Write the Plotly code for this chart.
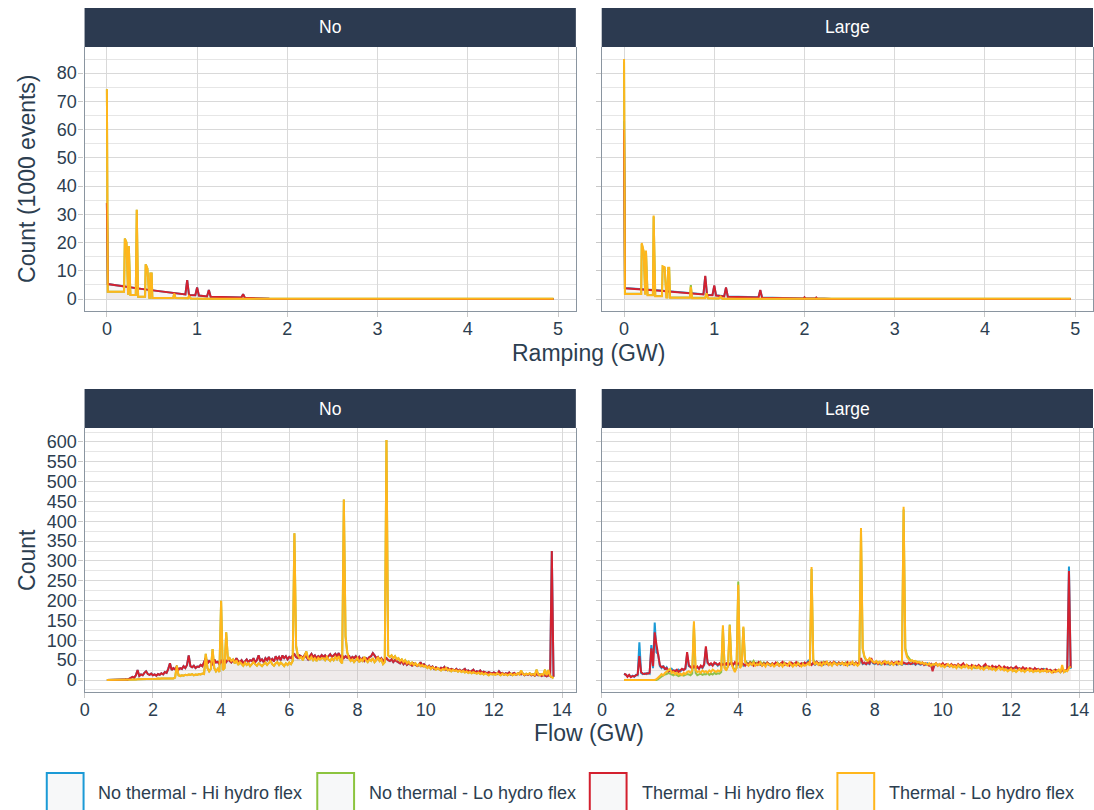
import numpy as np
import plotly.graph_objects as go

# ---------------- data ----------------
series_names = ["No thermal - Hi hydro flex", "No thermal - Lo hydro flex",
                "Thermal - Hi hydro flex", "Thermal - Lo hydro flex"]
series_colors = ["#1B9AD6", "#8CC43F", "#D3202F", "#FFB61C"]
facet_labels = ["No", "Large"]

# Ramping (GW) vs count (1000 events)
ramp_no_hi_x = [0, 0.01, 0.4, 0.87, 0.89, 0.91, 0.98, 1.00, 1.02, 1.11, 1.13, 1.15, 1.49, 1.51, 1.53, 1.8, 4.95]
ramp_no_hi_y = [34, 5.3, 3.5, 1.6, 6.7, 1.4, 1.3, 4.1, 1.2, 0.9, 3.2, 0.8, 0.5, 1.7, 0.4, 0.05, 0]
ramp_no_lo_x = [0, 0.01, 0.19, 0.199, 0.217, 0.235, 0.243, 0.261, 0.32, 0.331, 0.346, 0.423, 0.43, 0.449,
                0.47, 0.478, 0.482, 0.496, 0.504, 0.735, 0.746, 0.76, 0.90, 0.91, 0.93, 1.1, 4.95]
ramp_no_lo_y = [74.3, 2.6, 2.6, 21.4, 20.0, 1.5, 18.8, 1.4, 1.4, 31.6, 0.8, 0.8, 12.3, 10.8,
                0.4, 0.4, 9.0, 9.0, 0.35, 0.35, 2.0, 0.35, 0.3, 1.0, 0.2, 0.1, 0.1]
ramp_lg_hi_x = [0, 0.01, 0.4, 0.88, 0.90, 0.92, 0.98, 1.00, 1.02, 1.11, 1.13, 1.15, 1.49, 1.51, 1.53,
                1.99, 2.0, 2.01, 2.12, 2.13, 2.14, 2.3, 4.95]
ramp_lg_hi_y = [60, 3.8, 2.9, 1.6, 8.2, 1.4, 1.3, 4.8, 1.2, 0.9, 4.1, 0.8, 0.5, 3.2, 0.4,
                0.2, 0.6, 0.2, 0.15, 0.5, 0.15, 0.02, 0]
ramp_lg_nhi_y = [63, 3.9, 3.0, 1.7, 8.0, 1.5, 1.4, 4.6, 1.3, 1.0, 4.0, 0.9, 0.6, 3.1, 0.5,
                 0.2, 0.5, 0.2, 0.15, 0.4, 0.15, 0.02, 0]
ramp_lg_lo_x = [0, 0.01, 0.19, 0.196, 0.217, 0.235, 0.243, 0.261, 0.32, 0.328, 0.346, 0.42, 0.428, 0.45,
                0.47, 0.48, 0.49, 0.50, 0.51, 0.73, 0.74, 0.755, 0.90, 0.915, 0.93, 1.05, 1.07, 1.09, 4.95]
ramp_lg_lo_y = [85, 1.8, 1.8, 19.8, 17.0, 1.5, 17.2, 1.3, 1.3, 29.6, 1.0, 1.0, 11.6, 11.3,
                0.5, 0.5, 11.1, 11.1, 0.4, 0.4, 4.3, 0.3, 0.3, 2.0, 0.3, 0.2, 0.8, 0.1, 0.1]
ramp_lg_nlo_y = [84, 1.9, 1.9, 19.5, 16.8, 1.6, 17.0, 1.4, 1.4, 29.2, 1.1, 1.1, 11.4, 11.0,
                 0.6, 0.6, 10.9, 10.9, 0.5, 0.5, 4.9, 0.4, 0.4, 2.1, 0.3, 0.2, 0.7, 0.1, 0.1]

# Flow (GW) vs count, bins of 0.05 GW from 0.65 to 13.75
flow_x = np.round(np.arange(0.65, 13.7501, 0.05), 2)

flow_no_hi = sum([
    [0, 0, 0, 0, 0, 0, 1],
    [1, 0, 1, 1, 2, 1, 3, 5, 8, 6, 12, 25, 10, 14, 12, 18, 22, 15, 13, 16],
    [12, 14, 11, 15, 13, 17, 14, 20, 18, 28, 42, 25, 30, 27, 33, 26, 30, 28, 35, 30],
    [38, 62, 35, 32, 36, 30, 34, 33, 38, 35, 45, 55, 42, 48, 45, 40, 52, 44, 46, 40],
    [48, 42, 50, 45, 52, 48, 44, 50, 46, 55, 48, 45, 50, 42, 47, 52, 45, 50, 48, 55],
    [45, 50, 62, 48, 52, 45, 55, 50, 58, 48, 53, 47, 60, 52, 58, 50, 62, 55, 60, 52],
    [58, 55, 62, 65, 58, 55, 62, 60, 55, 63, 58, 52, 60, 66, 58, 62, 55, 60, 57, 63],
    [58, 62, 55, 60, 65, 58, 62, 66, 60, 68, 58, 62, 55, 60, 56, 62, 52, 58, 55, 60],
    [52, 58, 50, 55, 48, 55, 52, 58, 60, 68, 62, 55, 58, 50, 55, 48, 52, 55, 50, 48],
    [52, 45, 50, 48, 45, 42, 48, 40, 45, 38, 42, 40, 36, 42, 38, 35, 38, 45, 36, 40],
    [35, 32, 36, 30, 34, 28, 32, 30, 27, 31, 28, 33, 26, 30, 25, 28, 26, 24, 28, 23],
    [26, 22, 25, 28, 22, 24, 20, 23, 26, 19, 22, 20, 24, 18, 21, 19, 17, 20, 18, 16],
    [19, 17, 15, 22, 16, 18, 14, 17, 15, 19, 14, 16, 18, 13, 15, 17, 14, 16, 12, 15],
    [13, 16, 12, 14, 11, 15, 12, 14, 10, 13, 11, 9, 12, 10, 325, 8],
], [])

flow_no_lo = sum([
    [0, 0, 0, 0, 0, 0, 0],
    [0, 0, 0, 0, 1, 1, 1, 1, 1, 1, 1, 2, 2, 2, 2, 2, 2, 2, 3, 2],
    [3, 3, 3, 4, 3, 4, 4, 4, 5, 4, 5, 5, 4, 6, 36, 12, 10, 12, 11, 13],
    [12, 14, 13, 15, 12, 14, 13, 15, 14, 16, 15, 66, 30, 22, 28, 78, 30, 22, 28, 20],
    [200, 25, 30, 120, 50, 55, 48, 52, 42, 50, 38, 45, 40, 36, 44, 38, 42, 35, 40, 45],
    [40, 36, 42, 38, 35, 40, 44, 38, 42, 48, 40, 36, 42, 45, 38, 44, 40, 35, 42, 38],
    [44, 40, 48, 370, 85, 62, 55, 58, 50, 62, 72, 55, 52, 58, 50, 55, 48, 56, 52, 55],
    [55, 50, 58, 52, 48, 55, 50, 58, 52, 60, 48, 42, 455, 110, 70, 55, 48, 52, 45, 50],
    [55, 45, 52, 48, 58, 50, 45, 52, 48, 55, 45, 50, 58, 48, 52, 40, 45, 605, 62, 58],
    [62, 55, 60, 52, 55, 48, 52, 45, 50, 42, 46, 40, 44, 38, 42, 36, 40, 35, 38, 34],
    [36, 30, 34, 28, 32, 30, 26, 30, 28, 24, 28, 26, 30, 24, 27, 22, 26, 23, 25, 21],
    [24, 20, 23, 19, 22, 18, 21, 17, 20, 18, 16, 19, 15, 18, 14, 17, 15, 12, 16, 14],
    [15, 13, 17, 14, 12, 16, 13, 15, 12, 14, 16, 12, 15, 13, 17, 14, 24, 15, 13, 16],
    [14, 17, 13, 15, 12, 26, 14, 12, 15, 13, 26, 12, 25, 10, 8, 5],
], [])

# in the "No" panel the no-thermal series lie under the thermal ones
flow_no_nhi = flow_no_hi
flow_no_nlo = flow_no_lo

flow_lg_hi = sum([
    [15, 14, 8, 13, 7, 10, 9],
    [12, 14, 60, 20, 16, 15, 17, 16, 18, 80, 35, 120, 90, 60, 38, 32, 34, 28, 30, 22],
    [25, 20, 24, 22, 26, 20, 24, 28, 25, 30, 70, 38, 32, 30, 35, 30, 34, 28, 36, 32],
    [40, 85, 45, 38, 42, 36, 44, 40, 38, 42, 36, 40, 38, 42, 36, 40, 44, 38, 45, 40],
    [42, 38, 44, 40, 36, 42, 38, 44, 40, 36, 42, 38, 45, 40, 36, 42, 38, 44, 40, 36],
    [42, 38, 44, 40, 36, 42, 46, 38, 42, 40, 36, 44, 40, 38, 45, 40, 36, 42, 38, 44],
    [40, 45, 42, 38, 44, 40, 46, 42, 38, 44, 40, 45, 42, 38, 44, 40, 46, 42, 38, 44],
    [40, 44, 40, 38, 45, 40, 44, 42, 38, 44, 40, 46, 55, 42, 44, 40, 46, 42, 55, 44],
    [42, 46, 40, 44, 42, 46, 40, 44, 42, 40, 46, 42, 44, 40, 46, 42, 40, 44, 42, 40],
    [44, 40, 42, 46, 40, 44, 42, 40, 44, 38, 42, 40, 36, 40, 22, 38, 42, 36, 40, 38],
    [42, 36, 40, 38, 34, 40, 36, 38, 34, 40, 36, 38, 42, 34, 38, 36, 32, 38, 34, 36],
    [32, 38, 34, 30, 36, 40, 32, 34, 30, 36, 32, 34, 30, 36, 32, 28, 34, 30, 32, 28],
    [32, 28, 30, 34, 28, 30, 26, 32, 28, 30, 26, 30, 28, 24, 30, 26, 28, 24, 28, 26],
    [24, 28, 22, 26, 24, 20, 26, 22, 24, 20, 26, 22, 24, 28, 275, 30],
], [])

flow_lg_nhi = sum([
    [16, 12, 10, 12, 8, 11, 8],
    [13, 12, 95, 18, 15, 17, 15, 18, 16, 88, 30, 145, 70, 65, 35, 30, 36, 26, 32, 24],
    [22, 28, 22, 24, 20, 26, 22, 26, 27, 28, 65, 35, 34, 28, 33, 32, 30, 30, 34, 30],
    [38, 80, 42, 40, 38, 40, 40, 42, 36, 40, 38, 42, 40, 38, 40, 42, 40, 40, 42, 38],
    [38, 40, 42, 36, 40, 40, 42, 40, 38, 40, 38, 42, 40, 38, 40, 38, 42, 40, 38, 40],
    [40, 40, 38, 42, 40, 38, 42, 40, 40, 38, 40, 42, 36, 42, 40, 38, 40, 40, 42, 40],
    [42, 48, 40, 40, 42, 38, 42, 40, 42, 40, 38, 42, 40, 42, 40, 38, 42, 44, 40, 42],
    [38, 42, 42, 40, 42, 38, 42, 40, 42, 40, 38, 42, 50, 40, 42, 40, 42, 40, 50, 42],
    [40, 42, 44, 40, 38, 42, 42, 40, 40, 38, 42, 40, 42, 38, 42, 40, 38, 42, 40, 42],
    [40, 42, 40, 42, 38, 42, 40, 38, 42, 40, 38, 42, 38, 40, 26, 36, 40, 38, 38, 36],
    [38, 38, 36, 36, 36, 38, 34, 36, 36, 36, 34, 36, 38, 36, 34, 34, 34, 36, 32, 34],
    [34, 34, 32, 32, 34, 36, 34, 32, 32, 34, 30, 32, 32, 34, 30, 30, 32, 30, 30, 30],
    [30, 30, 28, 32, 30, 28, 28, 30, 26, 28, 28, 28, 26, 26, 28, 28, 26, 26, 26, 28],
    [26, 26, 24, 24, 22, 24, 24, 24, 22, 22, 24, 24, 22, 26, 286, 28],
], [])

flow_lg_lo = sum([
    [0, 0, 0, 0, 0, 0, 0],
    [0, 0, 0, 0, 0, 0, 0, 0, 0, 0, 0, 0, 2, 5, 10, 15, 12, 18, 22, 25],
    [28, 18, 20, 15, 18, 14, 16, 12, 18, 15, 20, 22, 18, 24, 148, 25, 20, 22, 18, 24],
    [20, 22, 18, 24, 20, 26, 22, 20, 24, 22, 26, 138, 30, 24, 36, 138, 40, 30, 20, 32],
    [240, 30, 36, 135, 45, 40, 36, 42, 38, 44, 36, 40, 38, 44, 36, 40, 34, 42, 38, 36],
    [40, 34, 38, 42, 36, 40, 34, 42, 38, 36, 44, 38, 34, 40, 36, 42, 38, 34, 40, 36],
    [38, 42, 36, 285, 48, 40, 44, 38, 42, 36, 44, 40, 46, 38, 42, 36, 44, 40, 38, 42],
    [40, 44, 38, 42, 36, 44, 40, 46, 38, 42, 36, 40, 383, 80, 60, 52, 48, 55, 50, 46],
    [44, 48, 42, 46, 40, 44, 48, 42, 46, 40, 44, 38, 42, 46, 40, 44, 38, 437, 75, 58],
    [52, 48, 50, 46, 48, 44, 46, 42, 44, 40, 42, 38, 42, 36, 40, 38, 42, 36, 40, 34],
    [38, 32, 36, 40, 34, 38, 32, 36, 30, 38, 34, 30, 36, 32, 38, 30, 34, 28, 36, 32],
    [30, 34, 28, 32, 26, 30, 34, 28, 32, 26, 30, 24, 28, 32, 26, 30, 24, 28, 22, 26],
    [28, 22, 26, 20, 24, 28, 22, 26, 20, 24, 28, 22, 26, 20, 24, 22, 26, 20, 24, 22],
    [26, 20, 24, 22, 18, 24, 20, 22, 26, 18, 38, 20, 24, 22, 30, 34],
], [])

flow_lg_nlo = sum([
    [0, 0, 0, 0, 0, 0, 0],
    [0, 0, 0, 0, 0, 0, 0, 0, 0, 0, 0, 0, 0, 2, 6, 10, 12, 14, 15, 18],
    [16, 14, 12, 15, 13, 10, 12, 14, 11, 13, 15, 14, 12, 16, 140, 18, 12, 14, 16, 13],
    [15, 14, 18, 13, 16, 14, 18, 15, 17, 16, 20, 130, 32, 26, 34, 140, 42, 32, 24, 30],
    [248, 34, 38, 132, 50, 44, 40, 46, 42, 48, 40, 44, 42, 46, 40, 44, 38, 44, 40, 38],
    [42, 38, 40, 44, 38, 42, 38, 44, 40, 38, 42, 40, 36, 42, 38, 44, 40, 36, 42, 38],
    [40, 44, 38, 280, 52, 42, 46, 40, 44, 38, 46, 42, 44, 40, 44, 38, 42, 42, 40, 44],
    [42, 42, 40, 44, 38, 42, 42, 44, 40, 44, 38, 42, 375, 78, 58, 50, 50, 52, 48, 44],
    [42, 46, 44, 44, 42, 42, 46, 44, 44, 42, 42, 40, 44, 44, 42, 42, 40, 430, 80, 62],
    [55, 50, 48, 48, 46, 46, 44, 44, 42, 42, 40, 40, 40, 38, 38, 40, 40, 38, 38, 36],
    [36, 34, 38, 38, 36, 36, 34, 34, 32, 36, 32, 32, 34, 34, 36, 32, 32, 30, 34, 30],
    [32, 32, 30, 30, 28, 32, 32, 30, 30, 28, 28, 26, 30, 30, 28, 28, 26, 26, 24, 28],
    [26, 24, 24, 22, 26, 26, 24, 24, 22, 26, 26, 24, 24, 22, 22, 24, 24, 22, 22, 24],
    [24, 22, 22, 24, 20, 22, 22, 24, 24, 20, 30, 22, 22, 24, 32, 36],
], [])

ramp_x_ticks = [0, 1, 2, 3, 4, 5]
ramp_y_ticks = [0, 10, 20, 30, 40, 50, 60, 70, 80]
flow_x_ticks = [0, 2, 4, 6, 8, 10, 12, 14]
flow_y_ticks = list(range(0, 601, 50))

# ---------------- figure ----------------
TEXT = "#2C3E50"
STRIP = "#2C3A50"
FILL = "rgba(190,175,170,0.06)"
FONT = "Liberation Sans, Arial, sans-serif"
W, H = 1094, 810

panels = [
    ("x", "y", [(ramp_no_hi_x, ramp_no_hi_y), (ramp_no_lo_x, ramp_no_lo_y),
                (ramp_no_hi_x, ramp_no_hi_y), (ramp_no_lo_x, ramp_no_lo_y)]),
    ("x2", "y2", [(ramp_lg_hi_x, ramp_lg_nhi_y), (ramp_lg_lo_x, ramp_lg_nlo_y),
                  (ramp_lg_hi_x, ramp_lg_hi_y), (ramp_lg_lo_x, ramp_lg_lo_y)]),
    ("x3", "y3", [(flow_x, flow_no_nhi), (flow_x, flow_no_nlo),
                  (flow_x, flow_no_hi), (flow_x, flow_no_lo)]),
    ("x4", "y4", [(flow_x, flow_lg_nhi), (flow_x, flow_lg_nlo),
                  (flow_x, flow_lg_hi), (flow_x, flow_lg_lo)]),
]

fig = go.Figure()
for xa, ya, data in panels:
    for i, (xs, ys) in enumerate(data):
        fig.add_trace(go.Scatter(
            x=list(xs), y=list(ys), mode="lines", xaxis=xa, yaxis=ya,
            name=series_names[i], legendgroup=series_names[i],
            line=dict(color=series_colors[i], width=2.0),
            fill="tozeroy", fillcolor=FILL,
            showlegend=False, hoverinfo="skip"))


def px_x(p):
    return p / W


def px_y(p):
    return 1 - p / H


left_dom = [px_x(80), px_x(574)]
right_dom = [px_x(600), 1.0]
top_dom = [px_y(311), px_y(47)]
bot_dom = [px_y(692), px_y(428)]

axis_common = dict(showline=True, linecolor="#8A95A0", linewidth=1.2,
                   showgrid=True, gridcolor="#D9D9D9", gridwidth=1, zeroline=False,
                   ticks="outside", ticklen=5, tickcolor="#C8C8C8", tickwidth=1,
                   tickfont=dict(size=18, color=TEXT, family=FONT))
xaxis_common = dict(axis_common, ticklabelstandoff=-4)
yaxis_common = dict(axis_common, mirror=True, ticklabelstandoff=-2)

ramp_range_x = [-0.2475, 5.1975]
ramp_range_y = [-4.25, 89.25]
flow_range_x = [-0.005, 14.405]
flow_range_y = [-30.25, 635.25]

minor_ramp_y = dict(dtick=5, tick0=0, showgrid=True, gridcolor="#E6E6E6", ticks="")
minor_flow_y = dict(dtick=25, tick0=0, showgrid=True, gridcolor="#E6E6E6", ticks="")

fig.update_layout(
    xaxis=dict(domain=left_dom, anchor="y", range=ramp_range_x, tickvals=ramp_x_ticks, **xaxis_common),
    yaxis=dict(domain=top_dom, anchor="x", range=ramp_range_y, tickvals=ramp_y_ticks,
               minor=minor_ramp_y, **yaxis_common),
    xaxis2=dict(domain=right_dom, anchor="y2", range=ramp_range_x, tickvals=ramp_x_ticks, **xaxis_common),
    yaxis2=dict(domain=top_dom, anchor="x2", range=ramp_range_y, tickvals=ramp_y_ticks,
                showticklabels=False, minor=minor_ramp_y, **yaxis_common),
    xaxis3=dict(domain=left_dom, anchor="y3", range=flow_range_x, tickvals=flow_x_ticks, **xaxis_common),
    yaxis3=dict(domain=bot_dom, anchor="x3", range=flow_range_y, tickvals=flow_y_ticks,
                minor=minor_flow_y, **yaxis_common),
    xaxis4=dict(domain=right_dom, anchor="y4", range=flow_range_x, tickvals=flow_x_ticks, **xaxis_common),
    yaxis4=dict(domain=bot_dom, anchor="x4", range=flow_range_y, tickvals=flow_y_ticks,
                showticklabels=False, minor=minor_flow_y, **yaxis_common),
)

shapes = []
annotations = []
strip_rows = [(px_y(47), px_y(8)), (px_y(428), px_y(389))]
for y0, y1 in strip_rows:
    for j, dom in enumerate([left_dom, right_dom]):
        shapes.append(dict(type="rect", xref="paper", yref="paper", x0=dom[0], x1=dom[1],
                           y0=y0, y1=y1, fillcolor=STRIP, line=dict(width=0), layer="above"))
        annotations.append(dict(text=facet_labels[j], xref="paper", yref="paper",
                                x=(dom[0] + dom[1]) / 2, y=(y0 + y1) / 2, showarrow=False,
                                xanchor="center", yanchor="middle",
                                font=dict(size=17.5, color="white", family=FONT)))

titles = [
    ("Count (1000 events)", px_x(22), (top_dom[0] + top_dom[1]) / 2, -90),
    ("Count", px_x(22), (bot_dom[0] + bot_dom[1]) / 2, -90),
    ("Ramping (GW)", px_x(587), px_y(353), 0),
    ("Flow (GW)", px_x(587), px_y(733), 0),
]
for t, x, y, ang in titles:
    annotations.append(dict(text=t, xref="paper", yref="paper", x=x, y=y, showarrow=False,
                            textangle=ang, xanchor="center", yanchor="middle",
                            font=dict(size=23, color=TEXT, family=FONT)))

# legend: large outlined keys with a light fill, as in the reference
legend_key_left = [42, 314, 588, 837]
for i, name in enumerate(series_names):
    x0 = legend_key_left[i]
    shapes.append(dict(type="rect", xref="paper", yref="paper",
                       x0=px_x(x0), x1=px_x(x0 + 37), y0=px_y(812), y1=px_y(773),
                       fillcolor="#F7F8F9", line=dict(color=series_colors[i], width=2)))
    annotations.append(dict(text=name, xref="paper", yref="paper", x=px_x(x0 + 50), y=px_y(793),
                            showarrow=False, xanchor="left", yanchor="middle",
                            font=dict(size=18, color=TEXT, family=FONT)))

fig.update_layout(
    width=W, height=H, margin=dict(l=0, r=0, t=0, b=0),
    paper_bgcolor="white", plot_bgcolor="white",
    font=dict(family=FONT, color=TEXT),
    shapes=shapes, annotations=annotations, showlegend=False,
)

fig.write_html("out.html",
               config={"displayModeBar": False},
               post_script="document.body.style.margin='0px';"
                           "document.body.style.overflow='hidden';")
